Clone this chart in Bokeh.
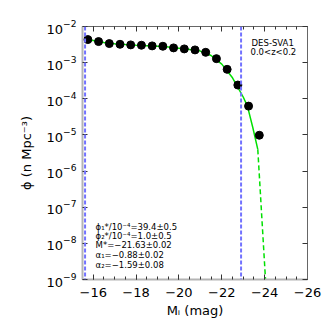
from bokeh.plotting import figure
from bokeh.models import (Range1d, FixedTicker, LogTickFormatter, LinearAxis, LogAxis,
                          Label, Span, CustomJSTickFormatter)
from bokeh.embed import file_html
from bokeh.resources import INLINE

# ---- data ----
mag_points = [-15.75, -16.25, -16.75, -17.25, -17.75, -18.25, -18.75, -19.25, -19.75,
              -20.25, -20.75, -21.25, -21.75, -22.25, -22.75, -23.25, -23.75]
phi_points = [4.35e-3, 3.83e-3, 3.37e-3, 3.22e-3, 3.10e-3, 3.03e-3, 2.91e-3, 2.84e-3,
              2.56e-3, 2.40e-3, 2.25e-3, 1.93e-3, 1.29e-3, 6.52e-4, 2.40e-4, 6.27e-5, 9.8e-6]

mag_fit = [-15.62, -16.0, -16.5, -17.0, -17.5, -18.0, -18.5, -19.0, -19.5, -20.0,
           -20.5, -21.0, -21.5, -22.0, -22.5, -23.0, -23.2, -23.45, -23.68]
phi_fit = [4.37e-3, 4.07e-3, 3.63e-3, 3.35e-3, 3.16e-3, 3.05e-3, 2.95e-3, 2.85e-3,
           2.69e-3, 2.51e-3, 2.32e-3, 2.09e-3, 1.58e-3, 9.12e-4, 3.80e-4, 1.12e-4,
           6.17e-5, 1.58e-5, 3.98e-6]

mag_fit_ext = [-23.68, -23.86, -24.04]
phi_fit_ext = [3.98e-6, 6.3e-8, 1.0e-9]

mag_limits = [-15.62, -22.9]

x_major_ticks = [-16, -18, -20, -22, -24, -26]
x_minor_ticks = [-15.5 - 0.5 * i for i in range(22)]
y_major_ticks = [1e-9, 1e-8, 1e-7, 1e-6, 1e-5, 1e-4, 1e-3, 1e-2]

survey_label = "DES-SVA1"
redshift_label = "0.0<z<0.2"
fit_params = ["ϕ₁*/10⁻⁴=39.4±0.5",
              "ϕ₂*/10⁻⁴=1.0±0.5",
              "M*=−21.63±0.02",
              "α₁=−0.88±0.02",
              "α₂=−1.59±0.08"]
fit_params_y = [2.8e-8, 1.56e-8, 8.8e-9, 4.65e-9, 2.6e-9]

FONT = "DejaVu Sans"

p = figure(width=324, height=324, output_backend="svg", toolbar_location=None,
           y_axis_type="log",
           x_range=Range1d(-15.5, -26.0), y_range=Range1d(1e-9, 1e-2),
           min_border_left=82, min_border_right=17, min_border_top=26, min_border_bottom=45)
p.outline_line_color = None
p.grid.visible = False
p.background_fill_color = "white"
p.border_fill_color = "white"

minus_fmt = CustomJSTickFormatter(code="return tick < 0 ? '\u2212' + Math.abs(tick) : '' + tick;")

# bottom axis
xa = p.xaxis[0]
xa.ticker = FixedTicker(ticks=x_major_ticks, minor_ticks=x_minor_ticks)
xa.formatter = minus_fmt
xa.axis_label = "Mᵢ (mag)"
# left axis
ya = p.yaxis[0]
ya.ticker = FixedTicker(ticks=y_major_ticks, minor_ticks=[])
ya.formatter = LogTickFormatter()
ya.axis_label = "ϕ (n Mpc⁻³)"

for ax in (xa, ya):
    ax.axis_line_color = "#b4b4b4"
    ax.axis_line_width = 2
    ax.major_tick_in = 5
    ax.major_tick_out = 0
    ax.minor_tick_in = 3
    ax.minor_tick_out = 0
    ax.major_tick_line_color = "#333333"
    ax.minor_tick_line_color = "#333333"
    ax.major_label_text_font = FONT
    ax.major_label_text_font_size = "13px"
    ax.major_label_text_color = "black"
    ax.axis_label_text_font = FONT
    ax.axis_label_text_font_size = "13px"
    ax.axis_label_text_font_style = "normal"
    ax.axis_label_text_color = "black"
xa.major_label_standoff = 8
xa.axis_label_standoff = 3
ya.major_label_standoff = 6
ya.axis_label_standoff = 10

# top and right axes (ticks only, no labels)
top = LinearAxis(ticker=FixedTicker(ticks=x_major_ticks, minor_ticks=x_minor_ticks))
right = LogAxis(ticker=FixedTicker(ticks=y_major_ticks, minor_ticks=[]))
for ax in (top, right):
    ax.axis_line_color = "#666666"
    ax.axis_line_width = 1
    ax.major_tick_in = 5
    ax.major_tick_out = 0
    ax.minor_tick_in = 3
    ax.minor_tick_out = 0
    ax.major_tick_line_color = "#333333"
    ax.minor_tick_line_color = "#333333"
    ax.major_label_text_font_size = "10px"
    ax.major_label_text_color = None
    ax.major_label_standoff = 0
top.formatter = CustomJSTickFormatter(code="return '';")
right.formatter = CustomJSTickFormatter(code="return '';")
p.add_layout(top, "above")
p.add_layout(right, "right")

# limit lines
for m in mag_limits:
    p.add_layout(Span(location=m, dimension="height", line_color="#7272ff",
                      line_width=2, line_dash="4 2"))

# fit curve
p.line(mag_fit, phi_fit, line_color="#00e000", line_width=1.5)
p.line(mag_fit_ext, phi_fit_ext, line_color="#00e000", line_width=1.5, line_dash="5 3")

# data points
p.scatter(mag_points, phi_points, size=8, marker="circle",
          fill_color="black", line_color="black")

# labels
p.add_layout(Label(x=-23.39, y=3.52e-3, text=survey_label, text_font=FONT,
                   text_font_size="8.5px", text_baseline="middle", text_color="black"))
p.add_layout(Label(x=-23.34, y=1.93e-3, text=redshift_label, text_font=FONT,
                   text_font_size="8.5px", text_baseline="middle", text_color="black"))
for t, yv in zip(fit_params, fit_params_y):
    p.add_layout(Label(x=-16.11, y=yv, text=t, text_font=FONT, text_font_size="8.5px",
                       text_baseline="middle", text_color="black"))

open("out.html", "w").write(file_html(p, INLINE))
